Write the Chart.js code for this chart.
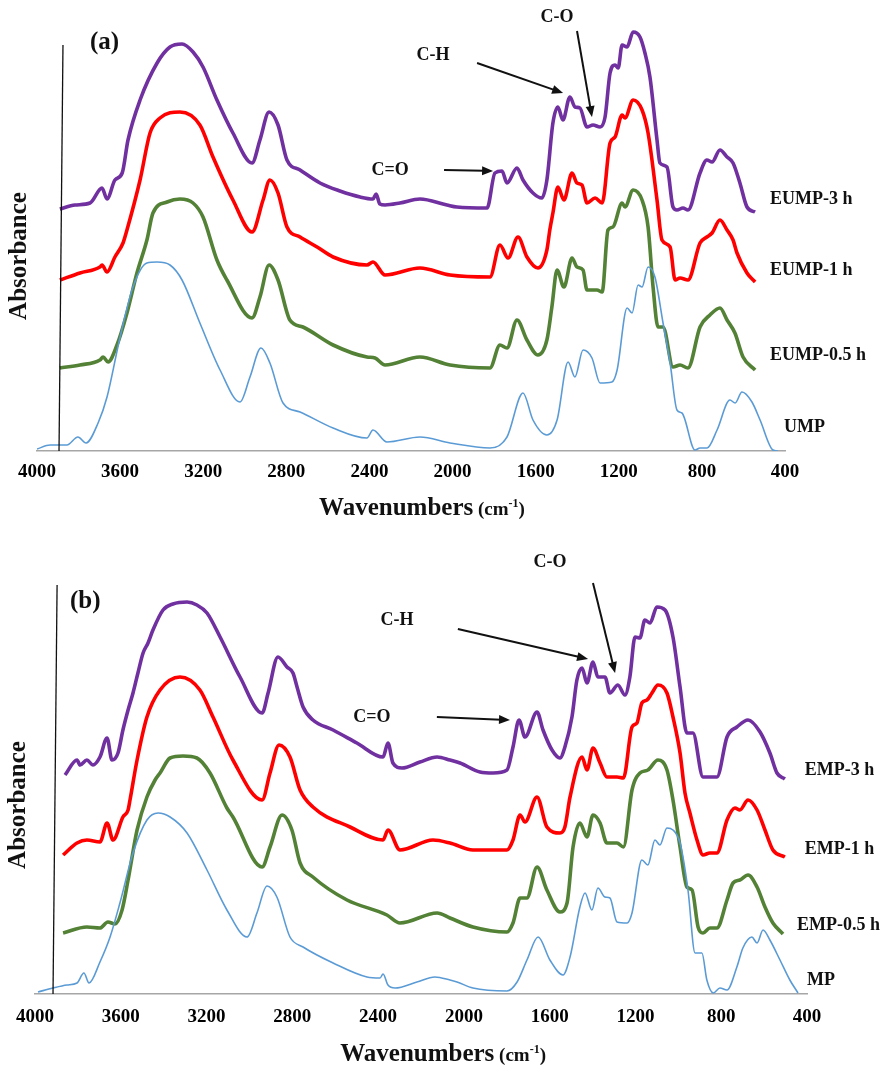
<!DOCTYPE html>
<html>
<head>
<meta charset="utf-8">
<script src="https://cdn.jsdelivr.net/npm/chart.js@4.4.1/dist/chart.umd.min.js"></script>
<style>
  body { margin: 0; background: #fff; }
  #wrap { position: relative; width: 889px; height: 1066px; }
  canvas { position: absolute; left: 0; }
</style>
</head>
<body>
<div id="wrap">
  <canvas id="panelA" width="889" height="533" style="top:0"></canvas>
  <canvas id="panelB" width="889" height="533" style="top:533px"></canvas>
</div>
<script>
// x ticks (cm-1)
const wnTicks = [4000, 3600, 3200, 2800, 2400, 2000, 1600, 1200, 800, 400];

// ---- panel (a): offset absorbance, arbitrary units ----
const wnEump3 = [3890,3817,3745,3687,3663,3625,3590,3562,3504,3422,3360,3302,3249,3201,3134,3057,2965,2927,2883,2840,2797,2734,2638,2542,2445,2383,2368,2350,2325,2253,2157,2027,1979,1834,1796,1762,1738,1690,1661,1613,1570,1546,1517,1493,1469,1435,1411,1387,1353,1324,1290,1266,1242,1218,1203,1184,1160,1131,1098,1074,1050,1016,1002,968,939,920,891,867,809,776,751,713,679,650,617,583,544];
const absEump3 = [242,246,248,263,252,271,278,311,351,388,404,407,399,384,351,318,288,311,339,326,291,281,268,260,254,252,257,247,246,248,252,246,244,243,278,280,268,283,271,258,253,271,328,344,331,354,344,343,324,326,324,334,378,386,383,406,404,419,414,398,374,311,288,284,244,241,243,241,278,291,289,301,294,288,268,244,239];

const wnEump1 = [3890,3793,3697,3687,3663,3625,3586,3567,3504,3456,3408,3312,3216,3153,3057,2965,2912,2879,2840,2797,2734,2652,2575,2412,2383,2325,2157,2012,1820,1772,1733,1685,1642,1589,1546,1532,1517,1493,1464,1425,1401,1377,1353,1314,1280,1242,1218,1184,1170,1131,1088,1059,1016,992,953,929,905,867,809,776,751,713,679,650,631,583,544];
const absEump1 = [171,178,184,186,179,194,208,221,271,318,333,339,326,294,251,219,251,271,258,224,214,204,194,186,189,176,183,176,174,206,193,214,194,183,201,221,238,264,251,278,268,266,248,253,248,308,314,336,333,351,341,318,251,211,204,171,173,171,208,214,218,231,221,211,198,178,169];

const wnEump05 = [3890,3793,3697,3682,3658,3615,3567,3519,3471,3442,3374,3312,3249,3201,3134,3086,2965,2927,2883,2840,2783,2720,2575,2412,2373,2325,2157,2012,1820,1772,1738,1690,1642,1589,1546,1522,1497,1464,1425,1401,1372,1353,1305,1280,1252,1228,1184,1170,1131,1088,1059,1035,1011,987,939,905,867,809,761,713,679,641,602,544];
const absEump05 = [83,86,91,94,89,106,138,178,211,238,249,252,248,234,191,171,133,154,186,171,131,124,106,94,93,86,94,86,83,106,103,131,111,96,111,144,181,164,193,184,181,161,161,159,221,224,248,244,261,251,224,164,124,124,84,86,83,124,136,143,131,118,94,81];

const wnUmp = [4000,3937,3856,3803,3764,3706,3663,3600,3538,3471,3422,3360,3302,3216,3119,3023,2975,2922,2879,2816,2734,2575,2412,2383,2316,2157,2012,1820,1738,1661,1613,1546,1497,1444,1411,1372,1329,1290,1233,1208,1160,1136,1107,1088,1059,1026,987,953,920,896,833,809,775,727,665,640,607,559,520,458,434];
const absUmp = [2,6,6,14,8,28,54,114,164,188,189,186,171,128,81,49,74,103,88,48,39,23,13,21,9,14,8,3,14,58,31,16,31,89,74,101,93,68,69,81,143,138,166,164,184,174,128,88,41,38,1,3,3,21,51,48,59,49,31,1,0];

// ---- panel (b) ----
const wnEmp3 = [3860,3804,3790,3758,3730,3697,3664,3641,3613,3590,3566,3543,3520,3496,3473,3450,3403,3357,3291,3245,3198,3137,3044,2941,2913,2867,2825,2797,2778,2750,2704,2610,2499,2377,2354,2331,2289,2205,2125,2065,2018,1925,1864,1799,1771,1743,1715,1659,1631,1589,1552,1529,1496,1473,1449,1426,1398,1375,1342,1319,1282,1249,1226,1202,1179,1156,1132,1100,1062,1025,992,960,932,885,820,773,727,675,619,573,540,503];
const absEmp3 = [219,234,229,234,229,237,256,234,241,264,284,301,321,341,351,364,384,390,392,389,381,357,317,281,301,337,327,321,307,287,274,264,251,237,251,231,226,232,237,234,231,222,221,224,247,274,257,282,264,244,236,247,277,314,326,311,332,317,317,301,309,299,317,357,356,374,371,387,384,357,307,261,261,217,217,257,267,274,262,241,221,215];

const wnEmp1 = [3869,3804,3758,3697,3664,3636,3590,3566,3557,3524,3478,3417,3324,3231,3170,3077,2941,2904,2862,2811,2764,2704,2531,2377,2354,2298,2144,2065,1958,1799,1771,1738,1715,1659,1613,1552,1529,1505,1449,1426,1398,1365,1333,1286,1256,1216,1193,1170,1146,1123,1095,1053,1025,992,969,946,913,885,853,820,773,736,713,675,633,596,559,503];
const absEmp1 = [139,151,154,152,171,154,177,184,194,234,277,304,317,304,277,234,194,221,249,237,204,187,167,154,164,144,154,151,144,144,154,179,172,197,167,161,167,197,237,224,246,231,217,217,216,267,271,291,294,301,309,301,277,241,201,181,154,139,141,141,174,186,184,194,184,164,144,137];

const wnEmp05 = [3869,3758,3697,3660,3627,3594,3566,3524,3478,3440,3417,3370,3310,3245,3184,3105,3077,2941,2904,2848,2802,2764,2704,2545,2359,2298,2125,2065,1958,1799,1771,1738,1706,1659,1613,1552,1519,1491,1459,1426,1398,1365,1333,1286,1256,1216,1179,1142,1095,1053,1025,992,960,936,908,885,853,820,773,745,713,675,633,596,559,512];
const absEmp05 = [61,67,66,72,70,84,114,164,197,214,221,236,238,236,221,186,177,127,147,179,164,131,117,94,79,71,81,76,67,62,71,96,96,127,104,82,91,147,171,157,179,171,151,151,147,204,221,224,234,224,194,147,107,104,67,61,66,66,94,111,114,119,107,87,71,60];

const wnMp = [3986,3916,3851,3804,3772,3748,3697,3650,3604,3543,3478,3426,3370,3291,3198,3105,3011,2965,2918,2872,2811,2750,2610,2452,2391,2377,2354,2321,2219,2135,2065,2032,1958,1799,1752,1706,1654,1599,1538,1505,1459,1435,1403,1375,1342,1319,1286,1239,1216,1170,1142,1109,1086,1053,1025,992,955,922,890,867,837,806,773,727,699,657,633,605,573,526,480,442];
const absMp = [2,6,9,11,21,11,32,57,91,141,174,181,177,161,124,84,57,81,108,97,57,47,31,17,16,20,9,6,12,17,14,12,6,3,12,34,57,34,19,37,87,101,84,106,97,96,72,71,81,134,129,154,149,166,164,151,104,41,41,14,1,6,4,27,46,57,51,64,54,34,14,1];

const SERIF = '"Liberation Serif", "Times New Roman", serif';
const PURPLE = '#7030a0', RED = '#ff0000', GREEN = '#538135', BLUE = '#5b9bd5';

function pairs(wn, ab) {
  return wn.map((w, i) => ({ x: w, y: ab[i] }));
}

function drawArrow(ctx, x1, y1, x2, y2) {
  const ang = Math.atan2(y2 - y1, x2 - x1);
  const head = 11, half = 4.5;
  ctx.lineWidth = 2;
  ctx.beginPath();
  ctx.moveTo(x1, y1);
  ctx.lineTo(x2 - Math.cos(ang) * head * 0.8, y2 - Math.sin(ang) * head * 0.8);
  ctx.stroke();
  ctx.beginPath();
  ctx.moveTo(x2, y2);
  ctx.lineTo(x2 - Math.cos(ang) * head - Math.sin(ang) * half, y2 - Math.sin(ang) * head + Math.cos(ang) * half);
  ctx.lineTo(x2 - Math.cos(ang) * head + Math.sin(ang) * half, y2 - Math.sin(ang) * head - Math.cos(ang) * half);
  ctx.closePath();
  ctx.fill();
}

// texts, arrows, the hand drawn absorbance line and axis titles
const figureText = {
  id: 'figureText',
  afterDraw(chart, args, o) {
    const { ctx } = chart;
    const X = v => chart.scales.x.getPixelForValue(v);
    const Y = v => chart.scales.y.getPixelForValue(v);
    ctx.save();
    ctx.fillStyle = '#111';
    ctx.strokeStyle = '#111';

    ctx.lineWidth = 1.3;
    ctx.beginPath();
    ctx.moveTo(X(o.axisLine[0]), Y(o.axisLine[1]));
    ctx.lineTo(X(o.axisLine[2]), Y(o.axisLine[3]));
    ctx.stroke();

    ctx.textBaseline = 'middle';
    o.labels.forEach(l => {
      ctx.font = `bold ${l.size}px ${SERIF}`;
      ctx.textAlign = l.align || 'left';
      ctx.fillText(l.text, X(l.wn), Y(l.h));
    });

    o.arrows.forEach(a => drawArrow(ctx, X(a[0]), Y(a[1]), X(a[2]), Y(a[3])));

    ctx.save();
    ctx.translate(X(o.yTitle[0]), Y(o.yTitle[1]));
    ctx.rotate(-Math.PI / 2);
    ctx.font = `bold 25px ${SERIF}`;
    ctx.textAlign = 'center';
    ctx.fillText('Absorbance', 0, 0);
    ctx.restore();

    const parts = [['Wavenumbers', 25, 0], [' (cm', 19, 0], ['-1', 12, -8], [')', 19, 0]];
    let total = 0;
    parts.forEach(p => {
      ctx.font = `bold ${p[1]}px ${SERIF}`;
      total += ctx.measureText(p[0]).width;
    });
    let cx = X(o.xTitle[0]) - total / 2;
    const base = Y(o.xTitle[1]) + 8;
    ctx.textAlign = 'left';
    ctx.textBaseline = 'alphabetic';
    parts.forEach(p => {
      ctx.font = `bold ${p[1]}px ${SERIF}`;
      ctx.fillText(p[0], cx, base + p[2]);
      cx += ctx.measureText(p[0]).width;
    });
    ctx.restore();
  }
};

function makePanel(id, series, pad, yMax, xHeight, tickPad, extra) {
  const ctx = document.getElementById(id).getContext('2d');
  return new Chart(ctx, {
    type: 'line',
    data: {
      datasets: series.map(s => ({
        label: s.label,
        data: pairs(s.wn, s.abs),
        borderColor: s.color,
        borderWidth: s.width,
        pointRadius: 0,
        fill: false,
        cubicInterpolationMode: 'monotone',
      })),
    },
    options: {
      responsive: false,
      animation: false,
      devicePixelRatio: 1,
      layout: { padding: { left: pad[0], right: pad[1], top: 20, bottom: 0 } },
      plugins: {
        legend: { display: false },
        tooltip: { enabled: false },
        figureText: extra,
      },
      scales: {
        x: {
          type: 'linear',
          reverse: true,
          min: 400,
          max: 4000,
          afterBuildTicks: scale => {
            scale.ticks = wnTicks.map(v => ({ value: v }));
          },
          ticks: {
            callback: v => String(v),
            color: '#000',
            padding: tickPad,
            maxRotation: 0,
            autoSkip: false,
            font: { family: SERIF, size: 19, weight: 'bold' },
          },
          grid: { display: false },
          border: { display: true, color: '#a6a6a6', width: 1.5 },
          afterFit: scale => { scale.height = xHeight; },
        },
        y: { display: false, min: 0, max: yMax },
      },
    },
    plugins: [figureText],
  });
}

makePanel('panelA', [
  { label: 'UMP', wn: wnUmp, abs: absUmp, color: BLUE, width: 1.6 },
  { label: 'EUMP-0.5 h', wn: wnEump05, abs: absEump05, color: GREEN, width: 3.6 },
  { label: 'EUMP-1 h', wn: wnEump1, abs: absEump1, color: RED, width: 3.6 },
  { label: 'EUMP-3 h', wn: wnEump3, abs: absEump3, color: PURPLE, width: 3.6 },
], [37, 104], 431, 82, 2, {
  axisLine: [3875, 406, 3894, 0],
  labels: [
    { text: '(a)', wn: 3745, h: 408, size: 25 },
    { text: 'C-H', wn: 2094, h: 396, size: 18, align: 'center' },
    { text: 'C-O', wn: 1497, h: 434, size: 18, align: 'center' },
    { text: 'C=O', wn: 2301, h: 281, size: 18, align: 'center' },
    { text: 'EUMP-3 h', wn: 472, h: 252, size: 18 },
    { text: 'EUMP-1 h', wn: 472, h: 181, size: 18 },
    { text: 'EUMP-0.5 h', wn: 472, h: 96, size: 18 },
    { text: 'UMP', wn: 405, h: 24, size: 18 },
  ],
  arrows: [[2041, 281, 1805, 280], [1882, 388, 1468, 358], [1401, 420, 1329, 334]],
  yTitle: [4082, 195],
  xTitle: [2147, -56],
});

makePanel('panelB', [
  { label: 'MP', wn: wnMp, abs: absMp, color: BLUE, width: 1.6 },
  { label: 'EMP-0.5 h', wn: wnEmp05, abs: absEmp05, color: GREEN, width: 3.6 },
  { label: 'EMP-1 h', wn: wnEmp1, abs: absEmp1, color: RED, width: 3.6 },
  { label: 'EMP-3 h', wn: wnEmp3, abs: absEmp3, color: PURPLE, width: 3.6 },
], [35, 82], 441, 72, 4, {
  axisLine: [3897, 409, 3916, 0],
  labels: [
    { text: '(b)', wn: 3837, h: 392, size: 25 },
    { text: 'C-H', wn: 2312, h: 374, size: 18, align: 'center' },
    { text: 'C-O', wn: 1599, h: 432, size: 18, align: 'center' },
    { text: 'C=O', wn: 2429, h: 277, size: 18, align: 'center' },
    { text: 'EMP-3 h', wn: 410, h: 224, size: 18 },
    { text: 'EMP-1 h', wn: 410, h: 145, size: 18 },
    { text: 'EMP-0.5 h', wn: 447, h: 69, size: 18 },
    { text: 'MP', wn: 400, h: 14, size: 18 },
  ],
  arrows: [[2126, 277, 1785, 274], [2028, 365, 1421, 335], [1398, 411, 1295, 321]],
  yTitle: [4079, 189],
  xTitle: [2097, -59],
});
</script>
</body>
</html>
